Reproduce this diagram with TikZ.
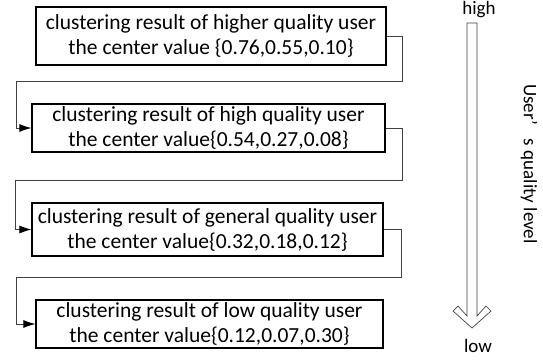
\documentclass[tikz,border=0pt]{standalone}
\usepackage{fontspec}
\setmainfont{Carlito}
\usetikzlibrary{arrows.meta}

\tikzset{
  qbox/.style={draw, line width=1.2pt, align=center, inner sep=0pt,
    font=\fontsize{21.5}{25}\selectfont},
  link/.style={draw=black!75, line width=0.8pt, -{Latex[length=12pt,width=8pt,black]}},
  lbl/.style={inner sep=0pt, font=\fontsize{19}{22}\selectfont},
}

\begin{document}
\begin{tikzpicture}[x=1pt, y=-1pt]
    \useasboundingbox (0,0) rectangle (543,360);

    % Quality classes, best first
    \node[qbox, minimum width=350pt, minimum height=58pt] (higher) at (211,36)
        {clustering result of higher quality user\\the center value \{0.76,0.55,0.10\}};
    \node[qbox, minimum width=353pt, minimum height=48pt] (high) at (208.5,128)
        {clustering result of high quality user\\the center value\{0.54,0.27,0.08\}};
    \node[qbox, minimum width=351pt, minimum height=53pt] (general) at (207.5,229.5)
        {clustering result of general quality user\\the center value\{0.32,0.18,0.12\}};
    \node[qbox, minimum width=347pt, minimum height=48pt] (low) at (209.5,324)
        {clustering result of low quality user\\the center value\{0.12,0.07,0.30\}};

    % Links between classes
    \coordinate (turn1) at (16,81);
    \coordinate (turn2) at (15,180);
    \coordinate (turn3) at (16,277);
    \draw[link] (higher.east) -- ++(16,0) |- (turn1) |- (high.west);
    \draw[link] (high.east) -- ++(17,0) |- (turn2) |- (general.west);
    \draw[link] (general.east) -- ++(18,0) |- (turn3) |- (low.west);

    % Quality scale
    \node[lbl] (top) at (479,9.5) {high};
    \node[lbl] (bottom) at (478,346) {low};
    \node[lbl, rotate=-90] (axis) at (529,164) {User’\hspace{0.7em}s quality level};
    \draw[black!75, line width=0.7pt, line join=miter]
        (467,23) -- (477,23) -- (477,316) -- (486,306) -- (491,311) -- (472,328)
        -- (453,311) -- (458,306) -- (467,316) -- cycle;
\end{tikzpicture}
\end{document}
